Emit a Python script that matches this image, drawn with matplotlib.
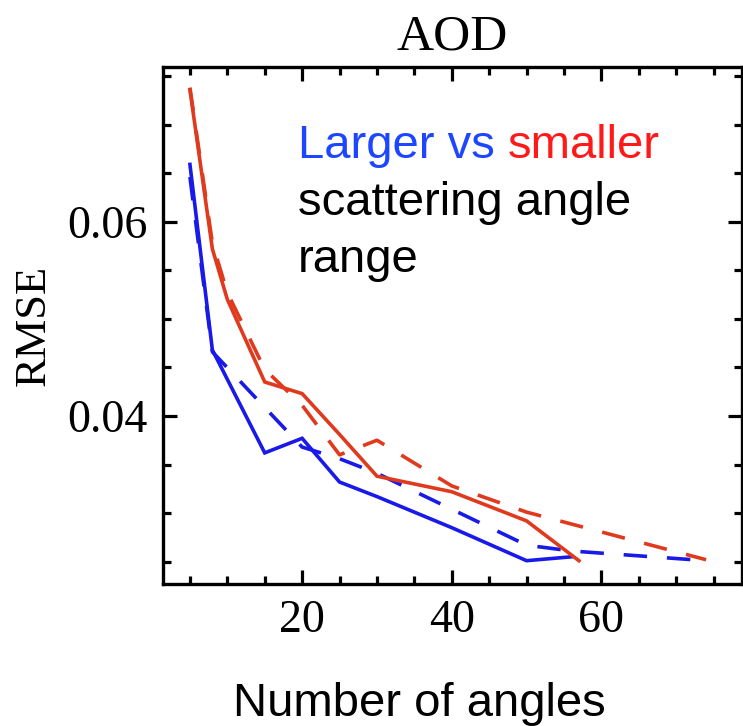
import matplotlib
matplotlib.use("Agg")
import matplotlib.pyplot as plt
from matplotlib.ticker import MultipleLocator
import matplotlib.transforms as mtransforms

# RMSE of AOD retrieval vs number of scattering angles
x_large = [5, 8, 15, 20, 25, 30, 40, 50, 56]
rmse_large = [0.0659, 0.0468, 0.0362, 0.0377, 0.0332, 0.0317, 0.0285, 0.0251, 0.0255]

x_large_dash = [5, 8, 20, 25, 30, 40, 50, 56, 74]
rmse_large_dash = [0.0646, 0.0466, 0.0368, 0.0356, 0.0341, 0.0304, 0.0267, 0.0261, 0.0251]

x_small = [5, 8, 10, 15, 20, 25, 30, 40, 50, 57]
rmse_small = [0.0736, 0.0572, 0.0520, 0.0435, 0.0423, 0.0381, 0.0338, 0.0322, 0.0292, 0.0251]

x_small_dash = [5, 8, 10, 15, 20, 25, 30, 40, 50, 74]
rmse_small_dash = [0.0738, 0.0578, 0.0527, 0.0448, 0.0411, 0.0360, 0.0375, 0.0328, 0.0301, 0.0252]

blue = '#1a1ae8'
red = '#e03a1e'
serif = 'Liberation Serif'
sans = 'Liberation Sans'

fig = plt.figure(figsize=(7.43, 7.26), dpi=100)
ax = fig.add_axes([163 / 743, 1 - 584 / 726, 579 / 743, (584 - 67.3) / 726])

lw = 2.6
ax.plot(x_large, rmse_large, color=blue, lw=lw, solid_joinstyle='miter')
ax.plot(x_large_dash, rmse_large_dash, color=blue, lw=lw, dashes=(6.5, 5.5))
ax.plot(x_small, rmse_small, color=red, lw=lw, solid_joinstyle='miter')
ax.plot(x_small_dash, rmse_small_dash, color=red, lw=lw, dashes=(6.5, 5.5))

ax.set_xlim(1.4, 78.8)
ax.set_ylim(0.0227, 0.0759)

ax.xaxis.set_major_locator(MultipleLocator(20))
ax.xaxis.set_minor_locator(MultipleLocator(5))
ax.yaxis.set_major_locator(MultipleLocator(0.02))
ax.yaxis.set_minor_locator(MultipleLocator(0.005))
ax.yaxis.set_major_formatter(plt.FuncFormatter(lambda v, p: f'{v:.2f}'))

for s in ax.spines.values():
    s.set_linewidth(2.4)
ax.tick_params(which='both', direction='in', top=True, right=True, width=2.3)
ax.tick_params(which='major', length=10, pad=11, labelsize=33)
ax.tick_params(which='minor', length=5.5)
for lab in ax.get_xticklabels() + ax.get_yticklabels():
    lab.set_family(serif)

ax.set_title('AOD', fontsize=37, family=serif, pad=13)
ax.set_ylabel('RMSE', fontsize=32, family=serif)
ax.yaxis.set_label_coords(-0.188, 0.5)

# annotation: two-colour first line, then two plain lines
tx = (298 - 163) / 579
t1 = ax.text(tx, 0.8245, 'Larger vs', color='#1c46ff', fontsize=34, family=sans,
             transform=ax.transAxes, va='baseline', ha='left')
fig.canvas.draw()
bb = t1.get_window_extent()
off = mtransforms.offset_copy(ax.transAxes, fig=fig, x=bb.width + 13, y=0, units='dots')
ax.text(tx, 0.8245, 'smaller', color='#ff1a1a', fontsize=34, family=sans,
        transform=off, va='baseline', ha='left')
ax.text(tx, 0.714, 'scattering angle', color='black', fontsize=34, family=sans,
        transform=ax.transAxes, va='baseline', ha='left')
ax.text(tx, 0.604, 'range', color='black', fontsize=34, family=sans,
        transform=ax.transAxes, va='baseline', ha='left')

fig.text(233 / 743, 1 - 716 / 726, 'Number of angles', fontsize=34, family=sans,
         va='baseline', ha='left')

fig.savefig('out.png', dpi=100)
